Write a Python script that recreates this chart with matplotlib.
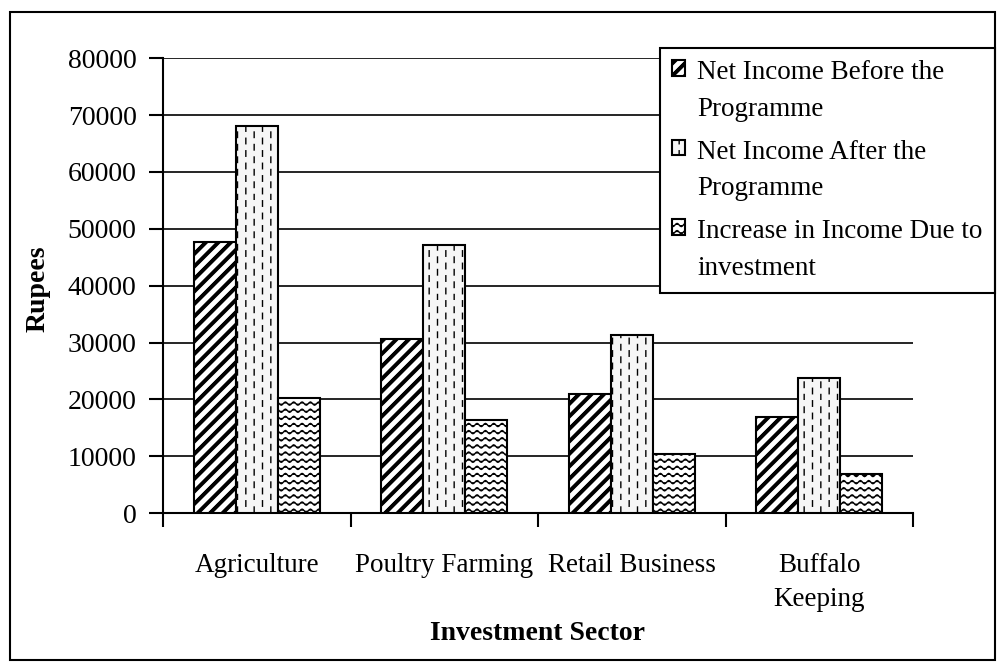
import warnings
import numpy as np
import matplotlib
matplotlib.use("Agg")
from matplotlib import pyplot as plt
from matplotlib import hatch as mhatch
from matplotlib.path import Path
from matplotlib.patches import Rectangle

warnings.filterwarnings("ignore")

categories = ["Agriculture", "Poultry Farming", "Retail Business", "Buffalo\nKeeping"]
before = [47600, 30600, 20900, 16900]
after = [68000, 47100, 31300, 23700]
increase = [20200, 16300, 10400, 6900]
series_names = ["Net Income Before the\nProgramme",
                "Net Income After the\nProgramme",
                "Increase in Income Due to\ninvestment"]
yticks = list(range(0, 80001, 10000))


# custom hatch patterns (thick diagonals, dashed verticals, waves)
class DiagHatch(mhatch.HatchPatternBase):
    def __init__(self, hatch, density):
        self.n = 8 * hatch.count('D')
        self.sub = [0.0, 0.012, 0.024, 0.036]
        self.num_vertices = 2 * (2 * self.n + 1) * len(self.sub) if self.n else 0

    def set_vertices_and_codes(self, vertices, codes):
        k = 0
        for i in range(-self.n, self.n + 1):
            for s in self.sub:
                c = i / self.n + s
                vertices[k] = (0.0, c)
                vertices[k + 1] = (1.0, 1.0 + c)
                codes[k] = Path.MOVETO
                codes[k + 1] = Path.LINETO
                k += 2


class DashHatch(mhatch.HatchPatternBase):
    def __init__(self, hatch, density):
        self.cols = 12 * hatch.count(':')
        self.per = 8
        self.num_vertices = 2 * self.cols * (self.per + 1) if self.cols else 0

    def set_vertices_and_codes(self, vertices, codes):
        k = 0
        for c in range(self.cols):
            x = (c + 0.5) / self.cols
            shift = 0.5 / self.per if c % 2 else 0.0
            for j in range(-1, self.per):
                y0 = j / self.per + shift
                vertices[k] = (x, y0)
                vertices[k + 1] = (x, y0 + 0.055)
                codes[k] = Path.MOVETO
                codes[k + 1] = Path.LINETO
                k += 2


class WaveHatch(mhatch.HatchPatternBase):
    def __init__(self, hatch, density):
        self.rows = 14 * hatch.count('~')
        self.npts = 97
        self.num_vertices = self.rows * self.npts

    def set_vertices_and_codes(self, vertices, codes):
        xs = np.linspace(0.0, 1.0, self.npts)
        for r in range(self.rows):
            y0 = (r + 0.5) / self.rows
            sl = slice(r * self.npts, (r + 1) * self.npts)
            vertices[sl, 0] = xs
            vertices[sl, 1] = y0 + 0.016 * np.sin(2 * np.pi * 12 * xs)
            codes[sl] = Path.LINETO
            codes[r * self.npts] = Path.MOVETO


mhatch._hatch_types.extend([DiagHatch, DashHatch, WaveHatch])

plt.rcParams['font.family'] = ['Liberation Serif', 'DejaVu Serif']
plt.rcParams['hatch.linewidth'] = 1.0
plt.rcParams['hatch.color'] = 'black'

fig = plt.figure(figsize=(10, 6.62), dpi=100)
ax = fig.add_axes([0.163, 0.225, 0.75, 0.687])

x = np.arange(len(categories))
w = 0.224
ax.bar(x - w, before, w, facecolor='white', edgecolor='black', lw=1.5,
       hatch='D', label=series_names[0], zorder=3)
ax.bar(x, after, w, facecolor='#f6f6f6', edgecolor='black', lw=1.5,
       hatch=':', label=series_names[1], zorder=3)
ax.bar(x + w, increase, w, facecolor='white', edgecolor='black', lw=1.5,
       hatch='~', label=series_names[2], zorder=3)

ax.set_xlim(-0.5, len(categories) - 0.5)
ax.set_ylim(0, 80000)
ax.set_yticks(yticks)
ax.set_yticklabels([str(v) for v in yticks], fontsize=20)
ax.yaxis.grid(True, color='black', lw=1.2)
ax.set_axisbelow(True)

ax.set_xticks(x)
ax.set_xticklabels(categories, fontsize=19.5, linespacing=1.45)
ax.set_xticks(np.arange(-0.5, len(categories), 1.0), minor=True)
ax.tick_params(axis='x', which='major', length=0, pad=29)
ax.tick_params(axis='x', which='minor', length=10, width=1.5, direction='out')
ax.tick_params(axis='y', length=10, width=1.5, direction='out', pad=9)

for side in ['top', 'right']:
    ax.spines[side].set_visible(False)
for side in ['left', 'bottom']:
    ax.spines[side].set_linewidth(1.5)
    ax.spines[side].set_color('black')

fig.text(0.538, 1 - 634 / 662, "Investment Sector", fontsize=20,
         fontweight='bold', ha='center', va='center')
fig.text(0.038, 1 - 289 / 662, "Rupees", fontsize=20, fontweight='bold',
         rotation=90, ha='center', va='center')

leg = ax.legend(loc='upper right', bbox_to_anchor=(0.995, 1 - 48 / 662),
                bbox_transform=fig.transFigure, borderaxespad=0,
                fontsize=19.5, frameon=True, fancybox=False, framealpha=1,
                edgecolor='black', handlelength=0.5, handleheight=0.5,
                handletextpad=0.45, labelspacing=0.67, borderpad=0.45)
leg.get_frame().set_linewidth(1.5)
for t in leg.get_texts():
    t.set_linespacing(1.6)
for col in leg._legend_handle_box.get_children():
    for item in col.get_children():
        item.align = 'top'

fig.add_artist(Rectangle((0.010, 0.003), 0.985, 0.979, transform=fig.transFigure,
                         fill=False, lw=1.5, ec='black'))

fig.savefig("out.png", dpi=100)
